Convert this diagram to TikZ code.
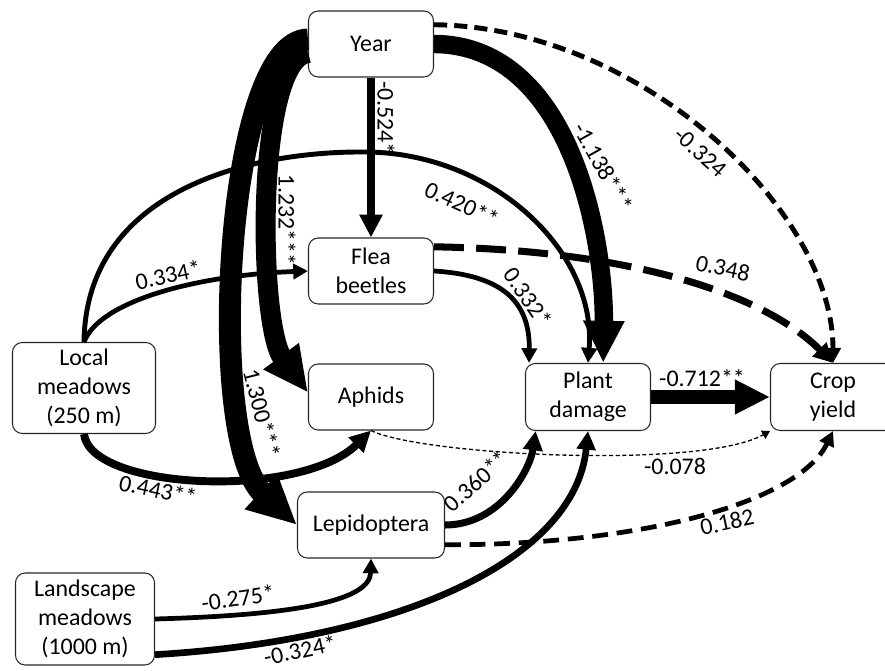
\documentclass[tikz,border=0pt]{standalone}
\usepackage{fontspec}
\setmainfont{Carlito}
\usetikzlibrary{arrows.meta}
\tikzstyle{varbox} = [draw=black!85, line width=0.6pt, fill=white,
    rectangle, rounded corners=5.5pt, align=center, inner sep=2pt,
    minimum width=2.5cm, minimum height=1.32cm]
\tikzstyle{effect} = [-{Triangle[length=3pt 2, width=4pt 1.7]}]
\tikzstyle{coef} = [inner sep=1pt]

\begin{document}
\begin{tikzpicture}[x=0.02cm, y=-0.02cm, font=\fontsize{13.6}{16.4}\selectfont]
\useasboundingbox (0,0) rectangle (885,671);
% variables
\node[varbox] (year) at (371,44) {Year};
\node[varbox] (flea) at (371,271) {Flea\\beetles};
\node[varbox] (aphids) at (371,397) {Aphids};
\node[varbox, minimum width=2.94cm] (lepi) at (371,525) {Lepidoptera};
\node[varbox, minimum width=2.86cm, minimum height=1.82cm] (local) at (84,388) {Local\\meadows\\(250 m)};
\node[varbox, minimum width=2.78cm, minimum height=1.84cm] (landscape) at (85,619) {Landscape\\meadows\\(1000 m)};
\node[varbox, minimum height=1.34cm] (damage) at (588,397) {Plant\\damage};
\node[varbox, minimum height=1.34cm] (crop) at (833,397) {Crop\\yield};

% year effects
\draw[effect, line width=5pt] (year.south) -- (flea.north);
\draw[effect, line width=11.4pt] (year.188) .. controls (255,60) and (258,325) .. (aphids.176);
\draw[effect, line width=12.5pt] (year.176) .. controls (225,40) and (205,440) .. (lepi.west);
\draw[effect, line width=10.5pt] (year.east) .. controls (575,45) and (605,250) .. (damage.66);
\draw[effect, line width=2.8pt, dash pattern=on 7.5pt off 4pt] (year.17) .. controls (640,27) and (833,210) .. (crop.north);

% local meadows
\draw[effect, line width=2.7pt] (local.north) .. controls (100,300) and (200,275) .. (flea.west);
\draw[effect, line width=2.8pt] (local.north) .. controls (86,190) and (250,152) .. (360,152)
    .. controls (490,150) and (597,250) .. (damage.north);
\draw[effect, line width=4.5pt] (local.south) .. controls (90,490) and (300,500) .. (aphids.south);

% herbivores
\draw[effect, line width=2.7pt] (flea.east) .. controls (500,275) and (530,300) .. (damage.150);
\draw[effect, line width=4pt, dash pattern=on 17pt off 7pt] (flea.21) .. controls (620,250) and (760,290) .. (crop.north);
\draw[effect, line width=0.75pt, dash pattern=on 2.3pt off 1.5pt] (aphids.south) .. controls (420,455) and (700,470) .. (crop.south west);
\draw[effect, line width=4pt] (lepi.east) .. controls (500,525) and (530,470) .. (damage.213);
\draw[effect, line width=2.7pt, dash pattern=on 9pt off 5pt] (lepi.-15) .. controls (650,545) and (800,500) .. (crop.south);

% landscape meadows
\draw[effect, line width=2.7pt] (landscape.east) .. controls (300,615) and (370,600) .. (lepi.south);
\draw[effect, line width=3.8pt] (landscape.-27) .. controls (400,640) and (575,560) .. (damage.south);

\draw[effect, line width=8.5pt] (damage.east) -- (crop.west);

% coefficients
\node[coef, rotate=-90] (c524) at (386,118) {-0.524*};
\node[coef, rotate=-90] (c1232) at (287,220) {1.232***};
\node[coef, rotate=-76] (c1300) at (262,413) {1.300***};
\node[coef, rotate=-61] (c1138) at (603,167) {-1.138***};
\node[coef, rotate=-42] (c324a) at (700,152) {-0.324};
\node[coef, rotate=12] (c334) at (168,275) {0.334*};
\node[coef, rotate=-25] (c420) at (462,204) {0.420**};
\node[coef, rotate=-12] (c443) at (158,490) {0.443**};
\node[coef, rotate=-55] (c332) at (528,297) {0.332*};
\node[coef, rotate=-12] (c348) at (723,268) {0.348};
\node[coef] (c078) at (675,466) {-0.078};
\node[coef] (c712) at (702,378) {-0.712**};
\node[coef, rotate=42] (c360) at (476,481) {0.360**};
\node[coef, rotate=12] (c182) at (727,522) {0.182};
\node[coef, rotate=8] (c275) at (238,598) {-0.275*};
\node[coef, rotate=12] (c324b) at (300,650) {-0.324*};
\end{tikzpicture}
\end{document}
